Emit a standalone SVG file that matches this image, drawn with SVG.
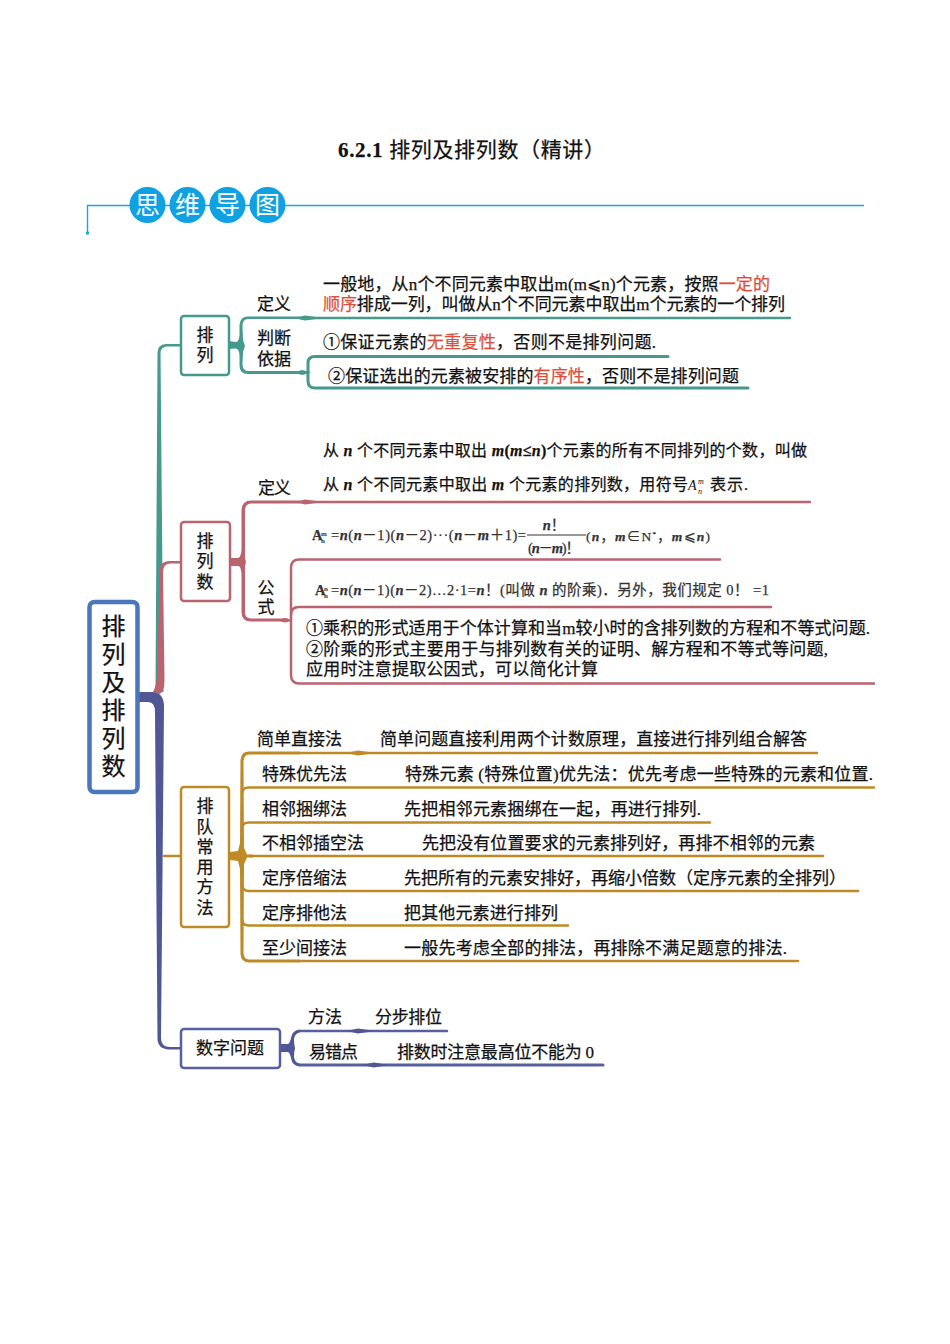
<svg xmlns="http://www.w3.org/2000/svg" width="950" height="1344" viewBox="0 0 950 1344">
<style>
text{font-family:"Liberation Serif","Noto Sans CJK SC",serif;fill:#111;font-size:17px;stroke:#111;stroke-width:.25}
.c{text-anchor:middle}
.red{fill:#d8513f;stroke:#d8513f}
.i{font-style:italic;font-weight:700}
.b{font-weight:700}
.f{font-size:14.500px;fill:#333;stroke:#333}
.f2{font-size:13.500px;fill:#333;stroke:#333}
.fs{font-size:7px;font-weight:700;fill:#333;stroke:none}
.big{font-size:24px}
.hd{font-size:25px;fill:#fff;stroke:none;text-anchor:middle;font-family:"Noto Sans CJK SC","Liberation Sans",sans-serif}
.box{fill:#fff;stroke-width:2.500}
.ln{fill:none;stroke-width:2.500;stroke-linecap:round;stroke-linejoin:round}
.teal{stroke:#46998d}.tealf{fill:#46998d}
.rose{stroke:#b9646f}.rosef{fill:#b9646f}
.gold{stroke:#bd8a25}.goldf{fill:#bd8a25}
.blue{stroke:#56609f}.bluef{fill:#4f5795}
</style>
<rect width="950" height="1344" fill="#fff"/>
<text id="title" x="338" y="157" style="font-size:21px" textLength="267"><tspan class="b">6.2.1</tspan> 排列及排列数（精讲）</text>
<g id="header">
<path d="M864 205.500H87.500V233" fill="none" stroke="#17a8d8" stroke-width="1.400"/>
<circle cx="87.500" cy="233" r="1.800" fill="#17a8d8"/>
<circle cx="147.500" cy="205" r="18" fill="#10a1e2"/><text class="hd" x="147.500" y="214">思</text>
<circle cx="187.500" cy="205" r="18" fill="#10a1e2"/><text class="hd" x="187.500" y="214">维</text>
<circle cx="227.500" cy="205" r="18" fill="#10a1e2"/><text class="hd" x="227.500" y="214">导</text>
<circle cx="267.500" cy="205" r="18" fill="#10a1e2"/><text class="hd" x="267.500" y="214">图</text>
</g>
<g id="connectors">
<path class="tealf" d="M155.500 692L157.500 353Q157.500 344.500 166 344H181V346.500H167Q160.500 347 160.500 353L163.500 692Z"/>
<path class="rosef" d="M153 692Q157 685 157.500 672L159.500 572Q159.500 561 170 561H181V563.500H170Q163 564 163 572L164.500 680Q164.500 690 160 694Z"/>
<path class="bluef" d="M138 692H152Q163.500 692 164 706L161 1038Q161 1047 170 1047H181V1049.500H169Q157.500 1049 157.500 1038L155 712Q155 702 148 702H138Z"/>
<path class="ln gold" d="M164 856H181"/>

<path class="tealf" d="M229 341L236 342Q239 342 239.500 335L239.500 325Q240 316.500 248 316.500H300V319H248Q242.500 319 242.500 326L243 340L245 346L243 352L242.500 364Q242.500 371 248 371H300V374H248Q239.500 374 239.500 365V355Q239 348 235 348.500L229 349Z"/>
<path class="ln teal" d="M300 318H790"/>
<path class="ln teal" style="stroke-width:3" d="M300 372.500H306"/>
<path class="ln teal" style="stroke-width:3" d="M308 372V363Q308 356.500 315 356.500H668"/>
<path class="ln teal" style="stroke-width:3" d="M308 373V381Q308 388 315 388H748"/>
<path class="tealf" d="M294 318L305 315.500L320 317.500V318.500L305 320.500Z"/>
<path class="tealf" d="M293 372.500L302 370L310 372V373L302 375Z"/>

<path class="rosef" d="M230 558L238 558Q241 557 241.500 550L241.500 510Q242 500.500 251 500.500H300V503.500H251Q245 503.500 245 511V558L246 562L245 566V612Q245 618.500 251 618.500H288V621.500H251Q241.500 621.500 241.500 612V574Q241 566 238 566L230 566Z"/>
<path class="ln rose" d="M300 502H810"/>
<path class="ln rose" d="M291 618V568Q291 559.500 299 559.500H720"/>
<path class="ln rose" d="M291 615Q291 607 299 607H771"/>
<path class="ln rose" d="M291 618V675Q291 683.500 299 683.500H874"/>
<path class="rosef" d="M295 502L305 499.500L320 501.500V502.500L305 504.500Z"/>
<path class="rosef" d="M276 620L285 618L292 620V621L285 622.500Z"/>

<path class="goldf" d="M230 852L238 851L240 843L240.500 760Q241 751.500 249 751.500H300V754.500H249Q244 754.500 243.500 761L244 848L247 854.500H253V857.500H247L244 864L243.500 953Q244 959.500 249 959.500H300V962.500H249Q241 962.500 240.500 954L240 869L238 861L230 860Z"/>
<path class="ln gold" d="M300 753H817"/>
<path class="ln gold" d="M300 961H798"/>
<path class="ln gold" d="M242 794Q242 787.500 249 787.500H874"/>
<path class="ln gold" d="M242 829Q242 822.500 249 822.500H710"/>
<path class="ln gold" d="M250 856H823"/>
<path class="ln gold" d="M242 884Q242 891 249 891H858"/>
<path class="ln gold" d="M242 919Q242 925.500 249 925.500H568"/>
<path class="goldf" d="M346 753L358 750.500L372 752.500V753.500L358 755.500Z"/>

<path class="bluef" d="M280 1044L288 1044Q290 1043 291 1038Q292 1030 300 1029.500V1032.500Q295 1033 294 1039Q294 1044 295 1048Q294 1052 294 1057Q295 1063 300 1063.500V1066.500Q292 1066 291 1058Q290 1053 288 1052L280 1052Z"/>
<path class="ln blue" d="M300 1031H447"/>
<path class="ln blue" style="stroke-width:3" d="M300 1065H603"/>
<path class="bluef" d="M346 1031L358 1028.500L372 1030.500V1031.500L358 1033.500Z"/>
<path class="bluef" d="M362 1065L374 1062.500L386 1064.500V1065.500L374 1067.500Z"/>
</g>
<g id="root">
<rect x="89.500" y="602" width="48" height="190" rx="5" fill="#fff" stroke="#4a76bd" stroke-width="4.500"/>
<text class="c big" x="113.500" y="635">排</text><text class="c big" x="113.500" y="663">列</text><text class="c big" x="113.500" y="691">及</text><text class="c big" x="113.500" y="719">排</text><text class="c big" x="113.500" y="747">列</text><text class="c big" x="113.500" y="775">数</text>
</g>
<g id="node-pailie">
<rect class="box teal" x="181" y="316" width="48" height="59" rx="3"/>
<text class="c" x="205" y="341">排</text><text class="c" x="205" y="361">列</text>
<text x="257" y="310" textLength="34">定义</text>
<text x="257" y="344" textLength="34">判断</text>
<text x="257" y="365" textLength="34">依据</text>
<text x="323" y="290" textLength="447">一般地，从n个不同元素中取出m(m⩽n)个元素，按照<tspan class="red">一定的</tspan></text>
<text x="323" y="310" textLength="462"><tspan class="red">顺序</tspan>排成一列，叫做从n个不同元素中取出m个元素的一个排列</text>
<text x="323" y="348" textLength="333">①保证元素的<tspan class="red">无重复性</tspan>，否则不是排列问题.</text>
<text x="328" y="382" textLength="411">②保证选出的元素被安排的<tspan class="red">有序性</tspan>，否则不是排列问题</text>
</g>
<g id="node-pailieshu">
<rect class="box rose" x="181" y="522" width="49" height="79" rx="3"/>
<text class="c" x="205" y="547">排</text><text class="c" x="205" y="567">列</text><text class="c" x="205" y="588">数</text>
<text x="258" y="494" textLength="33">定义</text>
<text class="c" x="266" y="594">公</text><text class="c" x="266" y="613">式</text>
<text x="323" y="456" textLength="484" style="font-size:16px">从 <tspan class="i">n</tspan> 个不同元素中取出 <tspan class="i">m</tspan><tspan class="b">(</tspan><tspan class="i">m</tspan><tspan class="b">≤</tspan><tspan class="i">n</tspan><tspan class="b">)</tspan>个元素的所有不同排列的个数，叫做</text>
<text x="323" y="490" textLength="365" style="font-size:16px">从 <tspan class="i">n</tspan> 个不同元素中取出 <tspan class="i">m</tspan> 个元素的排列数，用符号</text>
<text x="688" y="490" style="font-size:14px;font-style:italic;stroke:none">A</text>
<text x="698" y="484" style="font-size:8px;font-style:italic;stroke:none">m</text>
<text x="698" y="494" style="font-size:8px;font-style:italic;stroke:none">n</text>
<text x="710" y="490" textLength="38" style="font-size:16px">表示.</text>
<text class="f b" x="312" y="540">A</text><text class="fs" x="321" y="536">m</text><text class="fs" x="321" y="543">n</text>
<text class="f" x="331" y="540" textLength="195">=<tspan class="i">n</tspan>(<tspan class="i">n</tspan>－1)(<tspan class="i">n</tspan>－2)···(<tspan class="i">n</tspan>－<tspan class="i">m</tspan>＋1)=</text>
<text class="f c" x="554" y="530"><tspan class="i">n</tspan>！</text>
<path d="M527 535H586" stroke="#333" stroke-width="1"/>
<text class="f c" x="554" y="553" textLength="52">(<tspan class="i">n</tspan>－<tspan class="i">m</tspan>)！</text>
<text class="f2" x="586" y="541" textLength="124">(<tspan class="i">n</tspan>，<tspan class="i">m</tspan>∈N<tspan dy="-5" style="font-size:7px">*</tspan><tspan dy="5">，</tspan><tspan class="i">m</tspan>⩽<tspan class="i">n</tspan>)</text>
<text class="f b" x="315" y="595">A</text><text class="fs" x="324" y="591">n</text><text class="fs" x="324" y="598">n</text>
<text class="f" x="331" y="595" textLength="438">=<tspan class="i">n</tspan>(<tspan class="i">n</tspan>－1)(<tspan class="i">n</tspan>－2)…2·1=<tspan class="i">n</tspan>！(叫做 <tspan class="i">n</tspan> 的阶乘)．另外，我们规定 0！ =1</text>
<text x="306" y="634" textLength="564">①乘积的形式适用于个体计算和当m较小时的含排列数的方程和不等式问题.</text>
<text x="306" y="655" textLength="522">②阶乘的形式主要用于与排列数有关的证明、解方程和不等式等问题,</text>
<text x="306" y="675" textLength="292">应用时注意提取公因式，可以简化计算</text>
</g>
<g id="node-paidui">
<rect class="box gold" x="181" y="787" width="48" height="140" rx="3"/>
<text class="c" x="205" y="812">排</text><text class="c" x="205" y="833">队</text><text class="c" x="205" y="853">常</text><text class="c" x="205" y="873">用</text><text class="c" x="205" y="893">方</text><text class="c" x="205" y="914">法</text>
<text x="257" y="745" textLength="85">简单直接法</text>
<text x="380" y="745" textLength="427">简单问题直接利用两个计数原理，直接进行排列组合解答</text>
<text x="262" y="780" textLength="85">特殊优先法</text>
<text x="405" y="780" textLength="468">特殊元素 (特殊位置)优先法：优先考虑一些特殊的元素和位置.</text>
<text x="262" y="815" textLength="85">相邻捆绑法</text>
<text x="404" y="815" textLength="297">先把相邻元素捆绑在一起，再进行排列.</text>
<text x="262" y="849" textLength="102">不相邻插空法</text>
<text x="422" y="849" textLength="393">先把没有位置要求的元素排列好，再排不相邻的元素</text>
<text x="262" y="884" textLength="85">定序倍缩法</text>
<text x="404" y="884" textLength="442">先把所有的元素安排好，再缩小倍数（定序元素的全排列）</text>
<text x="262" y="919" textLength="85">定序排他法</text>
<text x="404" y="919" textLength="154">把其他元素进行排列</text>
<text x="262" y="954" textLength="85">至少间接法</text>
<text x="404" y="954" textLength="383">一般先考虑全部的排法，再排除不满足题意的排法.</text>
</g>
<g id="node-shuzi">
<rect class="box blue" x="181" y="1029" width="99" height="39" rx="3"/>
<text x="196" y="1054" textLength="68">数字问题</text>
<text x="308" y="1023" textLength="34">方法</text>
<text x="375" y="1023" textLength="67">分步排位</text>
<text x="309" y="1058" textLength="49">易错点</text>
<text x="397" y="1058" textLength="197">排数时注意最高位不能为 0</text>
</g>
</svg>
